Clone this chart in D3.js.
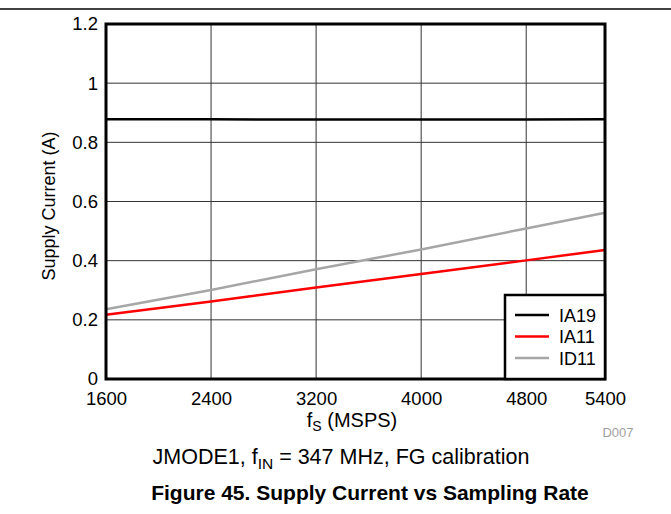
<!DOCTYPE html>
<html>
<head>
<meta charset="utf-8">
<script src="https://cdn.jsdelivr.net/npm/d3@7"></script>
<style>
  body { margin: 0; background: #fff; }
  svg { display: block; font-family: "Liberation Sans", Arial, sans-serif; }
</style>
</head>
<body>
<div id="chart"></div>
<script>
// Sampling rate (MSPS) and supply current (A)
const fsValues = [1600, 2400, 3200, 4000, 4800, 5400];
const ia19 = [0.878, 0.878, 0.877, 0.877, 0.877, 0.878];
const ia11 = [0.217, 0.262, 0.309, 0.355, 0.401, 0.436];
const id11 = [0.236, 0.301, 0.371, 0.438, 0.509, 0.562];

const seriesNames = ['IA19', 'IA11', 'ID11'];
const seriesColors = ['#000000', '#ff0000', '#a6a6a6'];

const xTicks = [1600, 2400, 3200, 4000, 4800, 5400];
const yTicks = [0, 0.2, 0.4, 0.6, 0.8, 1, 1.2];

const width = 671, height = 514;
const margin = { left: 106, right: 66, top: 24, bottom: 135 };
const plotW = width - margin.left - margin.right;
const plotH = height - margin.top - margin.bottom;

const svg = d3.select('#chart').append('svg')
  .attr('width', width)
  .attr('height', height);

// Rule across the top of the page
svg.append('line')
  .attr('x1', 0).attr('x2', width)
  .attr('y1', 9).attr('y2', 9)
  .attr('stroke', '#000')
  .attr('stroke-width', 1.5);

const x = d3.scaleLinear().domain([1600, 5400]).range([0, plotW]);
const y = d3.scaleLinear().domain([0, 1.2]).range([plotH, 0]);

const g = svg.append('g')
  .attr('transform', `translate(${margin.left},${margin.top})`);

// Grid
g.append('g')
  .selectAll('line')
  .data(xTicks.slice(1, -1))
  .enter().append('line')
  .attr('x1', d => x(d)).attr('x2', d => x(d))
  .attr('y1', 0).attr('y2', plotH)
  .attr('stroke', '#333')
  .attr('stroke-width', 1);

g.append('g')
  .selectAll('line')
  .data(yTicks.slice(1, -1))
  .enter().append('line')
  .attr('x1', 0).attr('x2', plotW)
  .attr('y1', d => y(d)).attr('y2', d => y(d))
  .attr('stroke', '#333')
  .attr('stroke-width', 1);

// Axes (labels only, frame drawn separately)
const xAxis = g.append('g')
  .attr('transform', `translate(0,${plotH})`)
  .call(d3.axisBottom(x).tickValues(xTicks).tickSize(0).tickPadding(13).tickFormat(d3.format('d')));
const yAxis = g.append('g')
  .call(d3.axisLeft(y).tickValues(yTicks).tickSize(0).tickPadding(8).tickFormat(d => String(+d.toFixed(1))));

[xAxis, yAxis].forEach(a => {
  a.select('.domain').remove();
  a.selectAll('text')
    .attr('fill', '#000')
    .style('font-size', '18.5px')
    .style('font-family', '"Liberation Sans", Arial, sans-serif');
});

// Data lines
const line = d3.line()
  .x((d, i) => x(fsValues[i]))
  .y(d => y(d));

[ia19, ia11, id11].forEach((vals, i) => {
  g.append('path')
    .datum(vals)
    .attr('fill', 'none')
    .attr('stroke', seriesColors[i])
    .attr('stroke-width', 2.5)
    .attr('d', line);
});

// Plot frame
g.append('rect')
  .attr('x', 0).attr('y', 0)
  .attr('width', plotW).attr('height', plotH)
  .attr('fill', 'none')
  .attr('stroke', '#000')
  .attr('stroke-width', 3);

// Legend
const legW = 100, legH = 84;
const leg = g.append('g')
  .attr('transform', `translate(${plotW - legW},${plotH - legH})`);

leg.append('rect')
  .attr('width', legW).attr('height', legH)
  .attr('fill', '#fff')
  .attr('stroke', '#000')
  .attr('stroke-width', 2.5);

seriesNames.forEach((name, i) => {
  const ly = 20 + i * 21.5;
  leg.append('line')
    .attr('x1', 10).attr('x2', 44)
    .attr('y1', ly).attr('y2', ly)
    .attr('stroke', seriesColors[i])
    .attr('stroke-width', 2.5);
  leg.append('text')
    .attr('x', 54).attr('y', ly + 6.5)
    .style('font-size', '18px')
    .text(name);
});

// Axis titles
svg.append('text')
  .attr('transform', 'translate(55,206) rotate(-90)')
  .attr('text-anchor', 'middle')
  .style('font-size', '18px')
  .text('Supply Current (A)');

const xt = svg.append('text')
  .attr('x', 352).attr('y', 427)
  .attr('text-anchor', 'middle')
  .style('font-size', '20px');
xt.append('tspan').text('f');
xt.append('tspan').attr('dy', 4).style('font-size', '14px').text('S');
xt.append('tspan').attr('dy', -4).text(' (MSPS)');

svg.append('text')
  .attr('x', 618).attr('y', 437)
  .attr('text-anchor', 'middle')
  .attr('fill', '#a0a0a0')
  .style('font-size', '13px')
  .text('D007');

// Conditions line
const sub = svg.append('text')
  .attr('x', 341).attr('y', 464)
  .attr('text-anchor', 'middle')
  .style('font-size', '21.5px');
sub.append('tspan').text('JMODE1, f');
sub.append('tspan').attr('dy', 5).style('font-size', '15.5px').text('IN');
sub.append('tspan').attr('dy', -5).text(' = 347 MHz, FG calibration');

// Figure caption
svg.append('text')
  .attr('x', 370).attr('y', 500)
  .attr('text-anchor', 'middle')
  .style('font-size', '21px')
  .style('font-weight', 'bold')
  .text('Figure 45. Supply Current vs Sampling Rate');
</script>
</body>
</html>
